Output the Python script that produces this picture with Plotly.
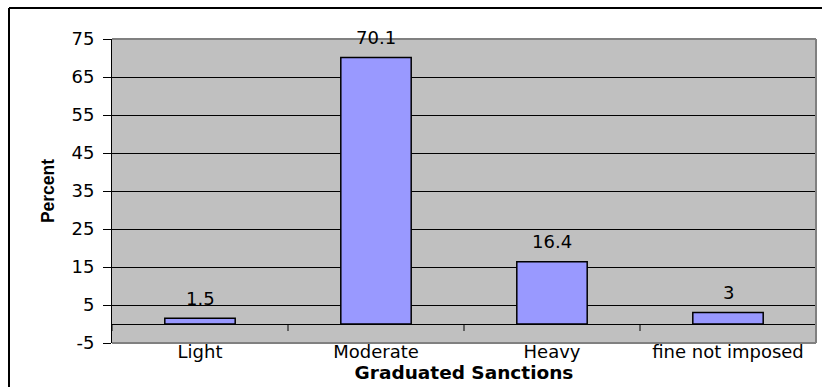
import plotly.graph_objects as go

# Share of cases by graduated sanction level
categories = ["Light", "Moderate", "Heavy", "fine not imposed"]
percent = [1.5, 70.1, 16.4, 3]
y_ticks = [-5, 5, 15, 25, 35, 45, 55, 65, 75]
y_tick_text = ["-5", "5", "15", "25", "35", "45", "55", "65", "75"]

W, H = 822, 387
M_L, M_R, M_T, M_B = 112, 6, 39, 44
plot_w = W - M_L - M_R
plot_h = H - M_T - M_B

label_font = dict(family="DejaVu Sans", size=18, color="black")

fig = go.Figure()
fig.add_trace(go.Bar(
    x=categories,
    y=percent,
    marker=dict(color="#9999FF", line=dict(color="black", width=1.5)),
    width=0.4,
    showlegend=False,
))

# value labels above each bar
for cat, val in zip(categories, percent):
    fig.add_annotation(
        x=cat, y=val, xref="x", yref="y",
        text=f"{val:g}", showarrow=False,
        yanchor="middle", yshift=20,
        font=label_font,
    )

shapes = []
# category axis drawn along the zero line, with ticks between categories
for b in [i - 0.5 for i in range(len(categories) + 1)]:
    shapes.append(dict(
        type="line", xref="x", yref="y", x0=b, x1=b,
        ysizemode="pixel", yanchor=0, y0=0, y1=-7,
        line=dict(color="black", width=1), layer="above",
    ))
# grey plot-area edges on top, right and bottom
for x0, y0, x1, y1 in [(0, 1, 1, 1), (1, 0, 1, 1), (0, 0, 1, 0)]:
    shapes.append(dict(
        type="line", xref="paper", yref="paper",
        x0=x0, y0=y0, x1=x1, y1=y1,
        line=dict(color="#808080", width=2), layer="above",
    ))
# chart frame
fx = (9 - M_L) / plot_w
fy = (H - M_B - 8) / plot_h
shapes.append(dict(type="line", xref="paper", yref="paper",
                   x0=fx, y0=fy, x1=1.2, y1=fy,
                   line=dict(color="black", width=2)))
shapes.append(dict(type="line", xref="paper", yref="paper",
                   x0=fx, y0=fy, x1=fx, y1=-0.3,
                   line=dict(color="black", width=2)))

fig.update_layout(
    width=W, height=H,
    margin=dict(l=M_L, r=M_R, t=M_T, b=M_B),
    paper_bgcolor="white",
    plot_bgcolor="#C0C0C0",
    shapes=shapes,
    xaxis=dict(
        type="category",
        range=[-0.5, len(categories) - 0.5],
        showgrid=False, showline=False, ticks="",
        tickfont=label_font,
        ticklabelstandoff=-4,
        title=dict(text="<b>Graduated Sanctions</b>",
                   font=dict(family="DejaVu Sans", size=18.5, color="black"),
                   standoff=0),
        automargin=False,
    ),
    yaxis=dict(
        range=[-5, 75],
        tickvals=y_ticks,
        ticktext=y_tick_text,
        showgrid=True, gridcolor="black", gridwidth=1,
        zeroline=True, zerolinecolor="black", zerolinewidth=1,
        showline=True, linecolor="black", linewidth=1,
        ticks="outside", ticklen=8, tickcolor="black",
        tickfont=label_font,
        ticklabelstandoff=5,
        title=dict(text="<b>Percent</b>",
                   font=dict(family="Arial, Liberation Sans", size=17.5, color="black"),
                   standoff=12),
        automargin=False,
    ),
)

fig.write_html("out.html")
